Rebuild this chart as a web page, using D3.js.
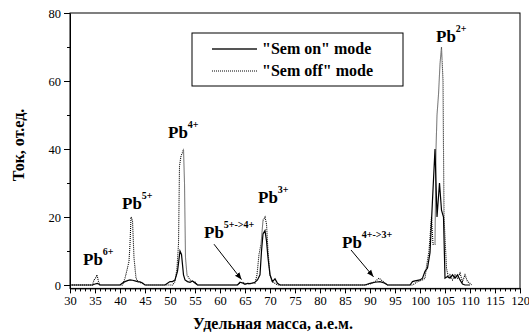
<!DOCTYPE html>
<html>
<head>
<meta charset="utf-8">
<script src="https://cdn.jsdelivr.net/npm/d3@7"></script>
<style>
  body { margin: 0; background: #fff; }
  svg, svg text { font-family: "Liberation Serif", "Times New Roman", serif; }
  .axis path, .axis line { stroke: #000; stroke-width: 1; }
  .axis text { font-size: 12.5px; fill: #000; }
</style>
</head>
<body>
<div id="chart"></div>
<script>
// масс-спектр ионов свинца, два режима

//режим "Sem on" (сплошная линия)
var massOn = [30, 34.5, 35, 35.5, 36, 40, 40.5, 41, 41.5, 42, 42.5, 43, 43.5, 44, 44.5, 45,
  49, 49.5, 50, 50.5, 51, 51.5, 52, 52.3, 52.7, 53, 53.5, 54, 54.5, 55, 55.5,
  63.5, 64, 64.5, 65, 65.5, 66, 66.5, 67, 67.5, 68, 68.3, 68.6, 69, 69.3, 69.6, 70, 70.5, 71, 71.5, 72,
  89, 90, 91, 92, 93, 93.5,
  98, 98.5, 99, 100, 100.5, 101, 101.5, 102, 102.5, 103, 103.4, 103.9, 104.3, 104.7, 105,
  105.5, 106, 106.5, 107, 107.5, 108, 108.5, 109, 110];
var currentOn = [0, 0, 0.3, 0.5, 0, 0, 0.6, 1, 1.3, 1.5, 1.4, 1.2, 1, 0.9, 0.6, 0,
  0, 0.5, 1, 1, 1.5, 4, 10, 9, 3, 1.5, 1, 0.8, 1.2, 0.6, 0,
  0, 0.8, 0.6, 0.2, 0.5, 0.4, 0.6, 0.8, 1.5, 3, 10, 15, 16, 13, 8, 3, 1, 1.8, 0.5, 0,
  0, 0.5, 0.8, 1, 0.5, 0,
  0, 1, 1.2, 1.5, 2, 4, 5, 9.5, 25, 40, 20, 30, 22, 20, 2,
  2.5, 2, 3, 2, 3, 1.5, 0.3, 0, 0];

//режим "Sem off" (пунктир)
var massOff = [30, 34.5, 34.8, 35.1, 35.4, 35.7, 36, 40.5, 41, 41.5, 41.8, 42, 42.2, 42.5, 42.8, 43.2, 43.6, 44, 44.5, 45,
  50.5, 51, 51.4, 51.7, 51.9, 52.2, 52.5, 52.7, 52.9, 53.1, 53.4, 54, 54.5, 55, 55.5,
  63.5, 64, 64.5, 65, 65.5, 66, 66.5, 67, 67.4, 67.8, 68.2, 68.6, 69, 69.3, 69.6, 70, 70.4, 71, 71.5,
  89, 90, 91, 91.8, 92.5, 93, 93.5,
  98.5, 99, 99.5, 100, 100.5, 101, 101.3, 101.8, 102.3, 102.6, 103, 103.2, 103.4, 103.7, 104, 104.3, 104.6, 104.8,
  105.3, 105.7, 106, 106.5, 107, 107.5, 108, 108.5, 109, 109.5, 110, 110.3];
var currentOff = [0, 0, 1.5, 2, 3, 1, 0, 0, 2, 5, 7, 12, 20, 19, 8, 2, 1, 0.8, 0.4, 0,
  0, 1, 5, 12, 35, 38, 39, 40, 30, 8, 3, 1.5, 1, 1, 0,
  0, 0.6, 0.8, 0.5, 0.3, 0.4, 0.5, 0.5, 3, 9, 12, 19, 20, 18, 10, 3, 1, 0.5, 0,
  0, 0.3, 1, 2, 1.2, 0.5, 0,
  0, 0.5, 1, 1.2, 1.5, 2, 5.4, 10, 20, 12, 12, 40, 50, 56, 65, 70, 60, 20,
  5, 2, 3, 1.5, 3, 2, 3.5, 1, 3, 1, 0.5, 0];

var xTicks = [30, 35, 40, 45, 50, 55, 60, 65, 70, 75, 80, 85, 90, 95, 100, 105, 110, 115, 120];
var yTicks = [0, 20, 40, 60, 80];
var yMinorTicks = [10, 30, 50, 70];

var seriesNames = ['"Sem on" mode', '"Sem off" mode'];

//подписи пиков (в координатах данных)
var peaks = [
  { ion: "Pb", charge: "6+", mass: 32.6, current: 5.9 },
  { ion: "Pb", charge: "5+", mass: 40.4, current: 22.4 },
  { ion: "Pb", charge: "4+", mass: 49.6, current: 43.2 },
  { ion: "Pb", charge: "5+->4+", mass: 56.8, current: 13.8 },
  { ion: "Pb", charge: "3+", mass: 67.6, current: 24.1 },
  { ion: "Pb", charge: "4+->3+", mass: 84.4, current: 10.9 },
  { ion: "Pb", charge: "2+", mass: 103.2, current: 71.5 }
];
//стрелки к пикам перезарядки
var arrows = [
  { from: [58.8, 12], to: [64.3, 1.6] },
  { from: [86.2, 10.3], to: [90.7, 2.4] }
];

var width = 529;
var height = 335;

var svg = d3.select("#chart")
  .append("svg")
  .attr("width", width)
  .attr("height", height);

var x = d3.scaleLinear().domain([30, 120]).range([70, 520]);
var y = d3.scaleLinear().domain([-1, 80]).range([288.4, 13]);

svg.append("defs").append("marker")
  .attr("id", "arrow")
  .attr("viewBox", "0 0 10 10")
  .attr("refX", 10).attr("refY", 5)
  .attr("markerWidth", 7).attr("markerHeight", 7)
  .attr("markerUnits", "userSpaceOnUse")
  .attr("orient", "auto")
  .append("path")
  .attr("d", "M0,1 L10,5 L0,9 Z")
  .attr("fill", "#000");

//рамка
svg.append("rect")
  .attr("x", x(30)).attr("y", y(80))
  .attr("width", x(120) - x(30)).attr("height", y(-1) - y(80))
  .attr("fill", "none").attr("stroke", "#000").attr("stroke-width", 1);

//оси
var serif = '"Liberation Serif", "Times New Roman", serif';

svg.append("g").attr("class", "axis")
  .attr("transform", "translate(0," + y(-1) + ")")
  .call(d3.axisBottom(x).tickValues(d3.range(30, 121, 1)).tickSize(3).tickFormat(""))
  .select(".domain").remove();
svg.append("g").attr("class", "axis")
  .attr("transform", "translate(0," + y(-1) + ")")
  .call(d3.axisBottom(x).tickValues(xTicks).tickSize(5).tickSizeOuter(0).tickPadding(3))
  .attr("font-family", serif);

svg.append("g").attr("class", "axis")
  .attr("transform", "translate(" + x(30) + ",0)")
  .call(d3.axisLeft(y).tickValues(yMinorTicks).tickSize(3).tickFormat(""))
  .select(".domain").remove();
svg.append("g").attr("class", "axis")
  .attr("transform", "translate(" + x(30) + ",0)")
  .call(d3.axisLeft(y).tickValues(yTicks).tickSize(6).tickSizeOuter(0).tickPadding(3))
  .attr("font-family", serif);

//подписи осей
svg.append("text")
  .attr("x", 273).attr("y", 329)
  .attr("text-anchor", "middle")
  .style("font-size", "16px").style("font-weight", "bold")
  .text("Удельная масса, а.е.м.");

svg.append("text")
  .attr("transform", "translate(24,145) rotate(-90)")
  .attr("text-anchor", "middle")
  .style("font-size", "16px").style("font-weight", "bold")
  .text("Ток, от.ед.");

//кривые
var line = d3.line()
  .x(function (d) { return x(d[0]); })
  .y(function (d) { return y(d[1]); });

svg.append("path")
  .datum(d3.zip(massOff, currentOff))
  .attr("d", line)
  .attr("fill", "none")
  .attr("stroke", "#000")
  .attr("stroke-width", 1.1)
  .attr("stroke-dasharray", "1,1");

svg.append("path")
  .datum(d3.zip(massOn, currentOn))
  .attr("d", line)
  .attr("fill", "none")
  .attr("stroke", "#000")
  .attr("stroke-width", 1.2);

//подписи пиков
var labels = svg.append("g").selectAll("text")
  .data(peaks)
  .enter()
  .append("text")
  .attr("x", function (d) { return x(d.mass); })
  .attr("y", function (d) { return y(d.current); })
  .style("font-weight", "bold")
  .style("font-size", "17px");
labels.append("tspan").text(function (d) { return d.ion; });
labels.append("tspan")
  .attr("dy", -10)
  .style("font-size", "10px")
  .text(function (d) { return d.charge; });

svg.append("g").selectAll("line")
  .data(arrows)
  .enter()
  .append("line")
  .attr("x1", function (d) { return x(d.from[0]); })
  .attr("y1", function (d) { return y(d.from[1]); })
  .attr("x2", function (d) { return x(d.to[0]); })
  .attr("y2", function (d) { return y(d.to[1]); })
  .attr("stroke", "#000")
  .attr("stroke-width", 1)
  .attr("marker-end", "url(#arrow)");

//легенда
var legend = svg.append("g").attr("transform", "translate(192,33)");
legend.append("rect")
  .attr("width", 211).attr("height", 53)
  .attr("fill", "#fff").attr("stroke", "#000").attr("stroke-width", 1);
legend.selectAll(".item")
  .data(seriesNames)
  .enter()
  .append("g")
  .attr("class", "item")
  .attr("transform", function (d, i) { return "translate(0," + (16 + i * 22) + ")"; })
  .each(function (d, i) {
    var g = d3.select(this);
    g.append("line")
      .attr("x1", 20).attr("x2", 65)
      .attr("stroke", i === 0 ? "#555" : "#000")
      .attr("stroke-width", i === 0 ? 2 : 1)
      .attr("stroke-dasharray", i === 0 ? null : "1,1");
    g.append("text")
      .attr("x", 70).attr("y", 5)
      .style("font-size", "16px").style("font-weight", "bold")
      .text(d);
  });
</script>
</body>
</html>
